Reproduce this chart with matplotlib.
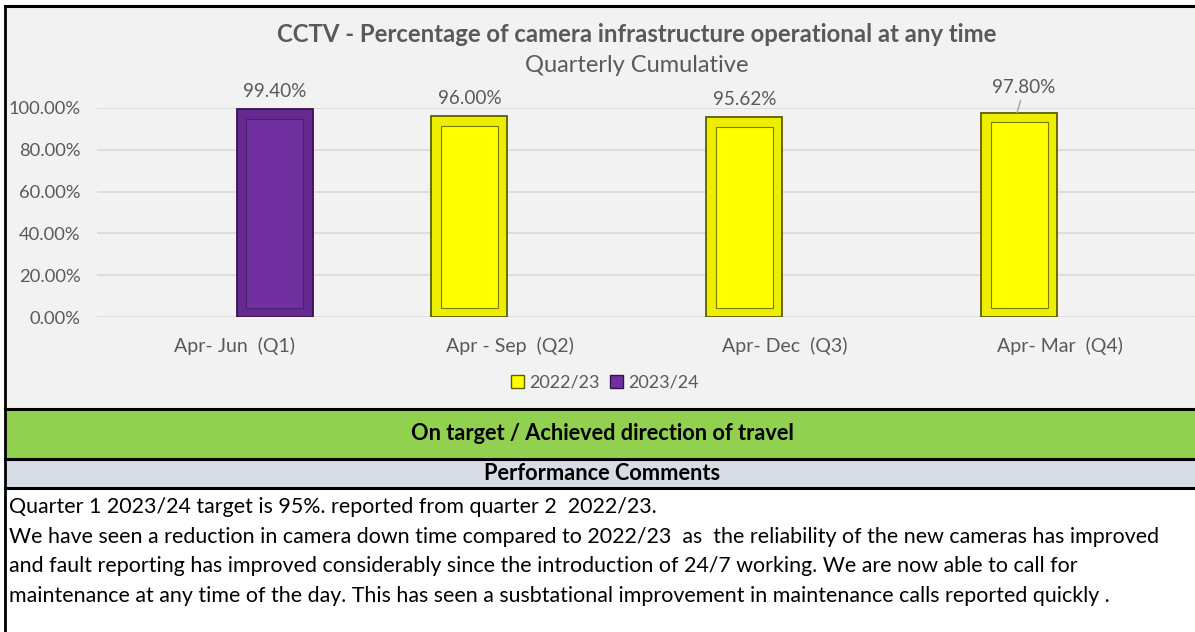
import numpy as np
import matplotlib
matplotlib.use("Agg")
import matplotlib.pyplot as plt
from matplotlib.patches import Rectangle, Patch

plt.rcParams['font.family'] = ['Lato', 'DejaVu Sans']

# data
quarters = ['Apr- Jun  (Q1)', 'Apr - Sep  (Q2)', 'Apr- Dec  (Q3)', 'Apr- Mar  (Q4)']
fy_2223 = [np.nan, 0.9600, 0.9562, 0.9780]
fy_2324 = [0.9940, np.nan, np.nan, np.nan]
series_names = ['2022/23', '2023/24']
yticks = [0, 0.2, 0.4, 0.6, 0.8, 1.0]

title = 'CCTV - Percentage of camera infrastructure operational at any time'
subtitle = 'Quarterly Cumulative'
status = 'On target / Achieved direction of travel'
comments_head = 'Performance Comments'
comments = [
    'Quarter 1 2023/24 target is 95%. reported from quarter 2  2022/23.',
    'We have seen a reduction in camera down time compared to 2022/23  as  the reliability of the new cameras has improved',
    'and fault reporting has improved considerably since the introduction of 24/7 working. We are now able to call for',
    'maintenance at any time of the day. This has seen a susbtational improvement in maintenance calls reported quickly .',
]

W, H = 1195, 632
fig = plt.figure(figsize=(W / 100, H / 100), dpi=100)
fig.patch.set_facecolor('white')

# background panel in pixel coords
bg = fig.add_axes([0, 0, 1, 1])
bg.set_xlim(0, W)
bg.set_ylim(H, 0)
bg.axis('off')
bg.add_patch(Rectangle((5, 6), W, 403, facecolor='#F2F2F2', edgecolor='none'))
bg.add_patch(Rectangle((5, 409), W, 50, facecolor='#92D050', edgecolor='none'))
bg.add_patch(Rectangle((5, 459), W, 29, facecolor='#D6DCE4', edgecolor='none'))
for yy in [6, 409, 459, 488]:
    bg.plot([5, W], [yy, yy], color='black', lw=2.2)
bg.plot([5, 5], [6, H], color='black', lw=2)

bg.text(637, 34, title, ha='center', va='center', fontsize=17.2,
        fontweight='bold', color='#595959')
bg.text(637, 66, subtitle, ha='center', va='center', fontsize=17, color='#595959')
bg.text(602, 434, status, ha='center', va='center', fontsize=15.7,
        fontweight='bold', color='black')
bg.text(602, 474, comments_head, ha='center', va='center', fontsize=15.7,
        fontweight='bold', color='black')
for i, line in enumerate(comments):
    bg.text(9, 507 + i * 29.7, line, ha='left', va='center', fontsize=15.4, color='black')

# chart
ax = fig.add_axes([97 / W, (H - 317) / H, 1100 / W, 209 / H])
ax.set_facecolor('none')
x = np.arange(len(quarters))
w = 0.277
off = 0.146

styles = [
    dict(outer='#EDED00', inner='#FFFF00', edge='#5E5E00', iedge='#7A7A00'),
    dict(outer='#66298F', inner='#7030A0', edge='#36134F', iedge='#4A1F6B'),
]
for vals, sign, st in [(fy_2223, -1, styles[0]), (fy_2324, 1, styles[1])]:
    vals = np.array(vals)
    pos = x + sign * off
    ax.bar(pos, vals, width=w, color=st['outer'], edgecolor=st['edge'], lw=1.3, zorder=3)
    ax.bar(pos, vals - 0.09, bottom=0.045, width=w * 0.74, color=st['inner'],
           edgecolor=st['iedge'], lw=0.8, zorder=4)
    for p, v in zip(pos, vals):
        if np.isnan(v):
            continue
        if v == fy_2223[3]:
            # label pushed up with a leader line
            ax.annotate(f'{v * 100:.2f}%', xy=(p - 0.008, v), xytext=(5, 18),
                        textcoords='offset points', ha='center', va='center',
                        fontsize=13.6, color='#595959', zorder=6,
                        arrowprops=dict(arrowstyle='-', color='#A6A6A6', lw=1.1,
                                        shrinkA=1, shrinkB=0))
        else:
            ax.annotate(f'{v * 100:.2f}%', xy=(p, v), xytext=(0, 13),
                        textcoords='offset points', ha='center', va='center',
                        fontsize=13.6, color='#595959')

ax.set_xlim(-0.5, 3.5)
ax.set_ylim(0, 1.0)
ax.set_yticks(yticks)
ax.set_yticklabels([f'{t * 100:.2f}%' for t in yticks])
ax.set_xticks(x)
ax.set_xticklabels(quarters)
ax.tick_params(axis='y', length=0, pad=12, labelsize=13.2, labelcolor='#595959')
ax.tick_params(axis='x', length=0, pad=14, labelsize=14, labelcolor='#595959')
ax.grid(axis='y', color='#D9D9D9', lw=1.2, zorder=0)
ax.set_axisbelow(True)
for s in ax.spines.values():
    s.set_visible(False)

handles = [Patch(facecolor=styles[0]['inner'], edgecolor=styles[0]['edge']),
           Patch(facecolor=styles[1]['inner'], edgecolor=styles[1]['edge'])]
fig.legend(handles, series_names, loc='center', bbox_to_anchor=(605 / W, (H - 383) / H),
           ncol=2, frameon=False, fontsize=13, handlelength=0.7, handleheight=0.7,
           handletextpad=0.3, columnspacing=0.6, labelcolor='#595959')

fig.savefig('out.png', dpi=100, facecolor='white')
